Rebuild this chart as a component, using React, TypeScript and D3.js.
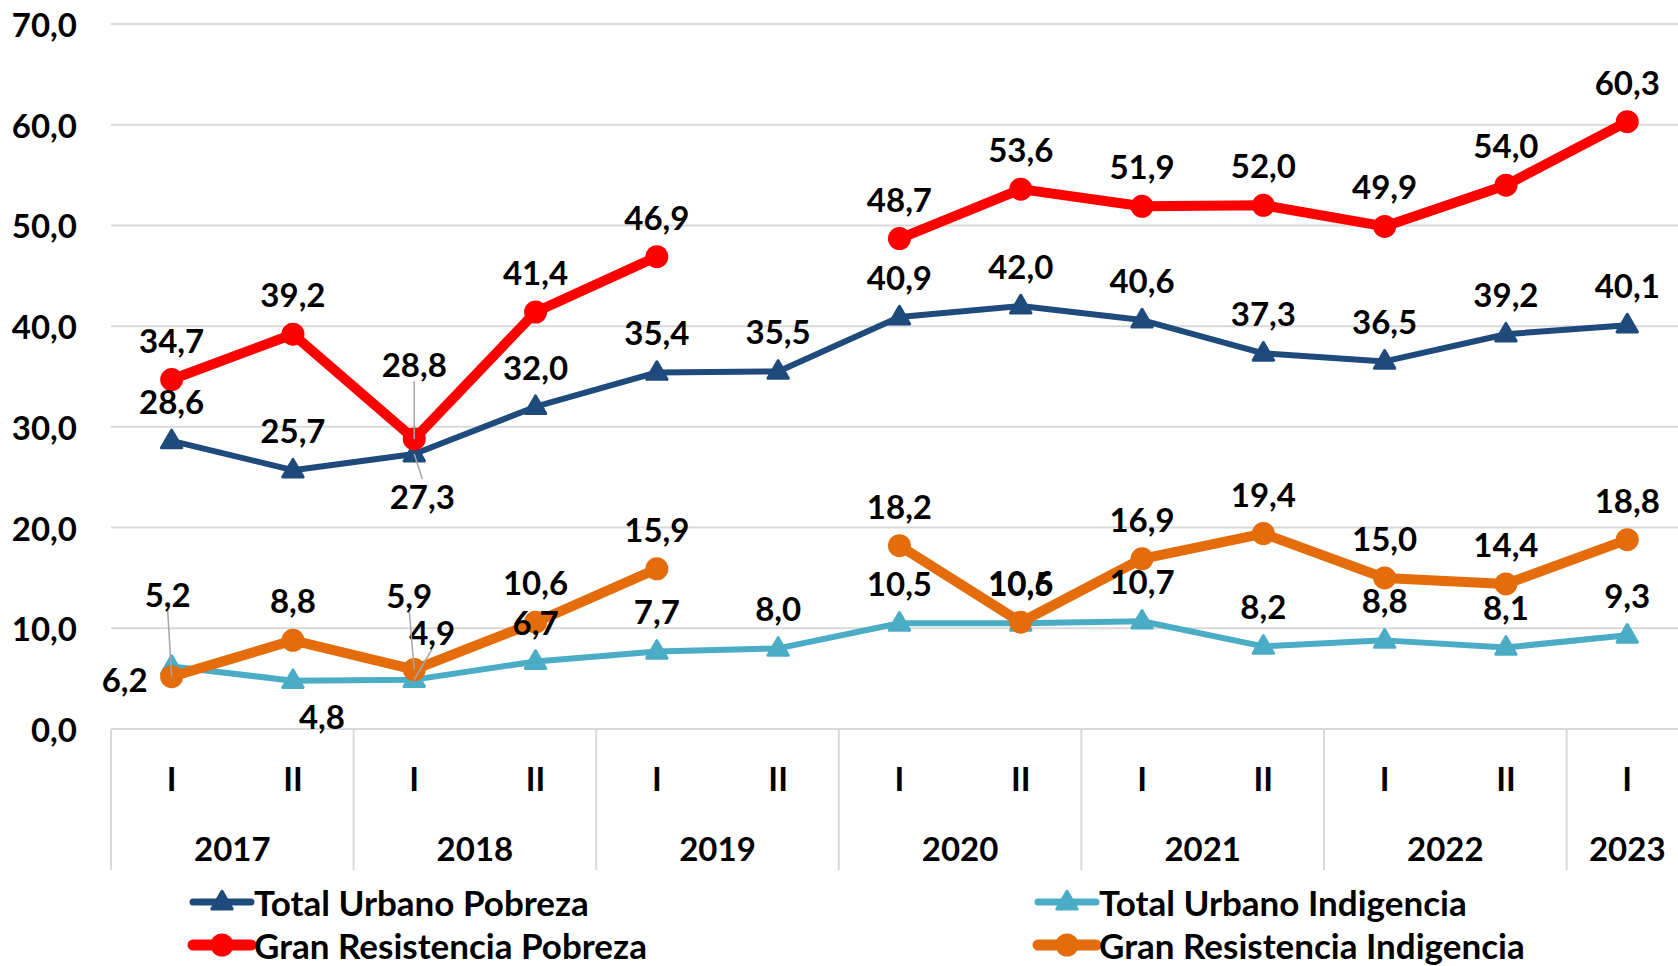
import React from 'react';
import * as d3 from 'd3';

const semesters = ['I', 'II', 'I', 'II', 'I', 'II', 'I', 'II', 'I', 'II', 'I', 'II', 'I'];
const years = ['2017', '2018', '2019', '2020', '2021', '2022', '2023'];
const yTicks = [0, 10, 20, 30, 40, 50, 60, 70];

const totalUrbanoPobreza = [28.6, 25.7, 27.3, 32.0, 35.4, 35.5, 40.9, 42.0, 40.6, 37.3, 36.5, 39.2, 40.1];
const granResistenciaPobreza = [34.7, 39.2, 28.8, 41.4, 46.9, null, 48.7, 53.6, 51.9, 52.0, 49.9, 54.0, 60.3];
const totalUrbanoIndigencia = [6.2, 4.8, 4.9, 6.7, 7.7, 8.0, 10.5, 10.5, 10.7, 8.2, 8.8, 8.1, 9.3];
const granResistenciaIndigencia = [5.2, 8.8, 5.9, 10.6, 15.9, null, 18.2, 10.6, 16.9, 19.4, 15.0, 14.4, 18.8];

const W = 1678;
const H = 966;
const FONT = 'Lato, "Open Sans", sans-serif';

// label nudges that differ from the default "above" spot: [dx, dy, leader]
const labelNudge: Record<string, [number, number, boolean]> = {
  'tup-2': [8, 42, true],
  'grp-2': [0, -75, true],
  'tui-0': [-47, 12, false],
  'tui-1': [29, 35, false],
  'tui-2': [18, -48, true],
  'gri-0': [-4, -83, true],
  'gri-2': [-5, -75, true],
};

const series = [
  { key: 'tup', name: 'Total Urbano Pobreza', values: totalUrbanoPobreza, color: '#1F4A7C', width: 6, marker: 'triangle' },
  { key: 'tui', name: 'Total Urbano Indigencia', values: totalUrbanoIndigencia, color: '#4BACC6', width: 6, marker: 'triangle' },
  { key: 'grp', name: 'Gran Resistencia Pobreza', values: granResistenciaPobreza, color: '#FF0000', width: 10, marker: 'circle' },
  { key: 'gri', name: 'Gran Resistencia Indigencia', values: granResistenciaIndigencia, color: '#E46C0A', width: 10, marker: 'circle' },
];

const fmt = (v: number) => v.toFixed(1).replace('.', ',');

const xScale = d3.scaleBand<number>()
  .domain(d3.range(semesters.length))
  .range([111, 111 + 121.3 * semesters.length])
  .padding(0);
const yScale = d3.scaleLinear().domain([0, 70]).range([729, 24]);

const tri = d3.symbol().type(d3.symbolTriangle).size(180)();

const Marker = ({ type, x, y, color }: any) =>
  type === 'circle'
    ? <circle cx={x} cy={y} r={11.5} fill={color} />
    : <path d={tri as string} transform={`translate(${x},${y + 1})`} fill={color} stroke={color} strokeWidth={3} strokeLinejoin="round" />;

export default function App() {
  const cx = (i: number) => (xScale(i) as number) + xScale.bandwidth() / 2;
  const line = d3.line<number | null>()
    .defined((d) => d != null)
    .x((_, i) => cx(i))
    .y((d) => yScale(d as number));

  const bw = xScale.bandwidth();
  const x0 = xScale(0) as number;

  const legendItems = [
    { s: series[0], lx: 193, ly: 902 },
    { s: series[1], lx: 1038, ly: 902 },
    { s: series[2], lx: 193, ly: 945 },
    { s: series[3], lx: 1038, ly: 945 },
  ];

  return (
    <svg width={W} height={H} style={{ position: 'absolute', left: 0, top: 0, background: '#fff' }}
      fontFamily={FONT} fontWeight={700}>
      {/* grid */}
      {yTicks.map((t) => (
        <g key={t}>
          <line x1={111} x2={W} y1={yScale(t)} y2={yScale(t)} stroke="#D9D9D9" strokeWidth={2} />
          <text x={77} y={yScale(t)} textAnchor="end" dominantBaseline="central" fontSize={33} fill="#000">{fmt(t)}</text>
        </g>
      ))}
      {/* category axis */}
      {d3.range(0, semesters.length + 1, 2).map((i) => (
        <line key={i} x1={x0 + i * bw} x2={x0 + i * bw} y1={729} y2={870} stroke="#D9D9D9" strokeWidth={2} />
      ))}
      {semesters.map((s, i) => (
        <text key={i} x={cx(i)} y={778} textAnchor="middle" dominantBaseline="central" fontSize={33}>{s}</text>
      ))}
      {years.map((y, k) => {
        const a = k * 2;
        const b = Math.min(a + 1, semesters.length - 1);
        return (
          <text key={y} x={(cx(a) + cx(b)) / 2} y={848} textAnchor="middle" dominantBaseline="central" fontSize={33}>{y}</text>
        );
      })}
      {/* lines */}
      {series.map((s) => (
        <g key={s.key}>
          <path d={line(s.values) as string} fill="none" stroke={s.color} strokeWidth={s.width} strokeLinejoin="round" />
          {s.values.map((v, i) => v == null ? null : (
            <Marker key={i} type={s.marker} x={cx(i)} y={yScale(v)} color={s.color} />
          ))}
        </g>
      ))}
      {/* data labels */}
      {series.map((s) => (
        <g key={s.key + 'l'}>
          {s.values.map((v, i) => {
            if (v == null) return null;
            const px = cx(i);
            const py = yScale(v);
            const [dx, dy, leader] = labelNudge[`${s.key}-${i}`] || [0, -40, false];
            const lx = px + dx;
            const ly = py + dy;
            return (
              <g key={i}>
                {leader && (
                  <line x1={px} y1={py} x2={lx} y2={dy < 0 ? ly + 17 : ly - 17} stroke="#A6A6A6" strokeWidth={1.5} />
                )}
                <text x={lx} y={ly} textAnchor="middle" dominantBaseline="central" fontSize={33} fill="#000">{fmt(v)}</text>
              </g>
            );
          })}
        </g>
      ))}
      {/* legend */}
      {legendItems.map(({ s, lx, ly }) => (
        <g key={s.key + 'g'}>
          <line x1={lx} x2={lx + 58} y1={ly} y2={ly} stroke={s.color} strokeWidth={s.width + 1} strokeLinecap="round" />
          <Marker type={s.marker} x={lx + 29} y={ly} color={s.color} />
          <text x={lx + 61} y={ly} dominantBaseline="central" fontSize={35} fill="#000">{s.name}</text>
        </g>
      ))}
    </svg>
  );
}
